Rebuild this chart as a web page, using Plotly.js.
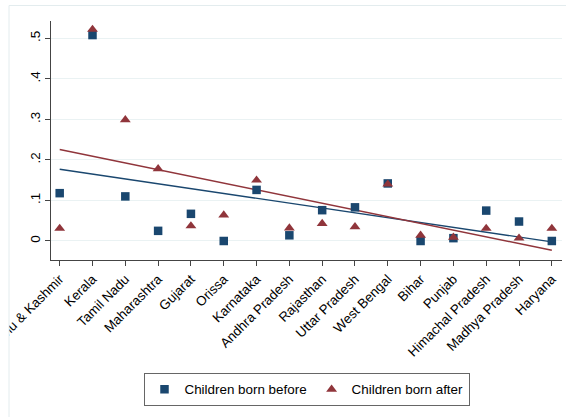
<!DOCTYPE html>
<html>
<head>
<meta charset="utf-8">
<script src="https://cdn.plot.ly/plotly-3.0.1.min.js"></script>
<style>
  html, body { margin: 0; padding: 0; background: #ffffff; }
  #chart { width: 566px; height: 417px; }
</style>
</head>
<body>
<div id="chart"></div>
<script>
// State names along the x axis
const states = [
  "Jammu & Kashmir", "Kerala", "Tamil Nadu", "Maharashtra", "Gujarat",
  "Orissa", "Karnataka", "Andhra Pradesh", "Rajasthan", "Uttar Pradesh",
  "West Bengal", "Bihar", "Punjab", "Himachal Pradesh", "Madhya Pradesh", "Haryana"
];

// Share per state, children born before
const bornBefore = [
  0.118, 0.508, 0.110, 0.025, 0.067, 0.000, 0.126, 0.014,
  0.076, 0.083, 0.142, 0.000, 0.007, 0.075, 0.048, 0.000
];

// Share per state, children born after
const bornAfter = [
  0.031, 0.522, 0.299, 0.178, 0.037, 0.064, 0.150, 0.032,
  0.043, 0.035, 0.140, 0.014, 0.009, 0.031, 0.007, 0.031
];

// Y tick values and their labels
const yTickVals = [0, 0.1, 0.2, 0.3, 0.4, 0.5];
const yTickText = ["0", ".1", ".2", ".3", ".4", ".5"];

const navy = "#1a476f";
const maroon = "#90353b";

// State positions 1..n
const xPos = states.map((_, i) => i + 1);

// Ordinary least-squares line of y on position
function linearFit(xs, ys) {
  const n = xs.length;
  const mx = xs.reduce((a, b) => a + b, 0) / n;
  const my = ys.reduce((a, b) => a + b, 0) / n;
  let sxy = 0, sxx = 0;
  for (let i = 0; i < n; i++) {
    sxy += (xs[i] - mx) * (ys[i] - my);
    sxx += (xs[i] - mx) * (xs[i] - mx);
  }
  const slope = sxy / sxx;
  const icpt = my - slope * mx;
  const x0 = xs[0], x1 = xs[n - 1];
  return { x: [x0, x1], y: [icpt + slope * x0, icpt + slope * x1] };
}

const fitBefore = linearFit(xPos, bornBefore);
const fitAfter = linearFit(xPos, bornAfter);

const traces = [
  {
    x: fitBefore.x, y: fitBefore.y, type: "scatter", mode: "lines",
    line: { color: navy, width: 1.4 }, showlegend: false, hoverinfo: "skip"
  },
  {
    x: fitAfter.x, y: fitAfter.y, type: "scatter", mode: "lines",
    line: { color: maroon, width: 1.4 }, showlegend: false, hoverinfo: "skip"
  },
  {
    x: xPos, y: bornBefore, type: "scatter", mode: "markers",
    name: "Children born before",
    marker: { symbol: "square", size: 8.5, color: navy, line: { width: 0 } }
  },
  {
    x: xPos, y: bornAfter, type: "scatter", mode: "markers",
    name: "Children born after",
    marker: { symbol: "triangle-up", size: 9.5, color: maroon, line: { width: 0 } }
  }
];

const baseFont = { family: "Liberation Sans, Arial, Helvetica, sans-serif", size: 13.4, color: "#000000" };

// plot area is 239 px tall; frame sits 15.5 px above it and 42 px left of it
const plotH = 239;
const plotW = 511;

const layout = {
  width: 566,
  height: 417,
  autosize: false,
  margin: { l: 51, r: 4, t: 21, b: 157, pad: 0 },
  paper_bgcolor: "#ffffff",
  plot_bgcolor: "#ffffff",
  font: baseFont,
  showlegend: true,
  xaxis: {
    range: [0.735, 16.31],
    tickmode: "array",
    tickvals: xPos,
    ticktext: states,
    tickangle: -45,
    ticklabeloverflow: "allow",
    ticks: "outside",
    ticklen: 5,
    tickwidth: 1,
    tickcolor: "#444444",
    showline: true,
    linecolor: "#444444",
    linewidth: 1,
    showgrid: false,
    zeroline: false,
    tickfont: baseFont
  },
  yaxis: {
    range: [-0.0469, 0.5427],
    tickmode: "array",
    tickvals: yTickVals,
    ticktext: yTickText,
    tickangle: -90,
    ticks: "outside",
    ticklen: 5,
    tickwidth: 1,
    tickcolor: "#444444",
    showline: true,
    linecolor: "#444444",
    linewidth: 1,
    showgrid: true,
    gridcolor: "#eaf2f3",
    gridwidth: 1,
    zeroline: false,
    tickfont: baseFont
  },
  legend: {
    orientation: "h",
    x: 0.5,
    xanchor: "center",
    y: -0.473,
    yanchor: "top",
    bordercolor: "#666666",
    borderwidth: 1,
    bgcolor: "#ffffff",
    font: baseFont,
    itemwidth: 30
  },
  shapes: [
    // blank strip at the far left of the figure
    {
      type: "rect", xref: "paper", yref: "paper", layer: "above",
      x0: -0.2, x1: -42 / plotW, y0: -1.0, y1: 1.2,
      fillcolor: "#ffffff", line: { width: 0 }
    },
    // light outer frame: left edge
    {
      type: "line", xref: "paper", yref: "paper", layer: "above",
      x0: -42 / plotW, x1: -42 / plotW, y0: -157 / plotH, y1: 1 + 15.5 / plotH,
      line: { color: "#e3ecee", width: 1 }
    },
    // light outer frame: top edge
    {
      type: "line", xref: "paper", yref: "paper", layer: "above",
      x0: -42 / plotW, x1: 1.01, y0: 1 + 15.5 / plotH, y1: 1 + 15.5 / plotH,
      line: { color: "#e3ecee", width: 1 }
    }
  ]
};

Plotly.newPlot("chart", traces, layout, { displayModeBar: false, staticPlot: true });
</script>
</body>
</html>
